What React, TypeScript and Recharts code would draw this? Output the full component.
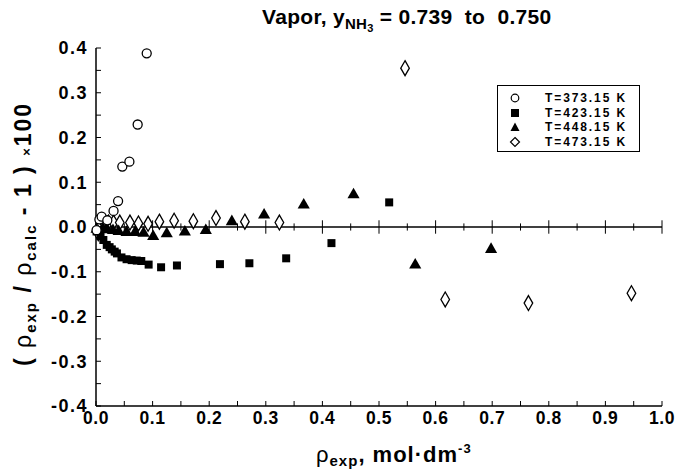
import { ScatterChart, Scatter, XAxis, YAxis, ZAxis, ReferenceLine, Customized } from "recharts"

// series values (x = rho_exp, y = deviation)
const circleX = [0.001, 0.006, 0.01, 0.02, 0.031, 0.039, 0.0465, 0.059, 0.0736, 0.0896]
const circleY = [-0.007, 0.017, 0.023, 0.015, 0.036, 0.058, 0.135, 0.146, 0.229, 0.388]

const squareX = [0.001, 0.008, 0.013, 0.019, 0.024, 0.028, 0.033, 0.037, 0.045, 0.054, 0.063, 0.072, 0.08, 0.093, 0.115, 0.143, 0.219, 0.271, 0.336, 0.416, 0.518]
const squareY = [-0.01, -0.02, -0.029, -0.04, -0.045, -0.05, -0.055, -0.059, -0.068, -0.072, -0.074, -0.075, -0.076, -0.084, -0.09, -0.086, -0.083, -0.081, -0.07, -0.036, 0.055]

const triangleX = [0.001, 0.012, 0.02, 0.03, 0.04, 0.054, 0.069, 0.084, 0.101, 0.125, 0.157, 0.194, 0.24, 0.297, 0.367, 0.455, 0.564, 0.698]
const triangleY = [-0.005, -0.004, -0.006, -0.008, -0.01, -0.012, -0.012, -0.014, -0.021, -0.015, -0.011, -0.008, 0.012, 0.027, 0.049, 0.072, -0.085, -0.05]

const diamondX = [0.004, 0.013, 0.022, 0.031, 0.042, 0.06, 0.075, 0.092, 0.112, 0.138, 0.172, 0.212, 0.263, 0.324, 0.546, 0.617, 0.764, 0.946]
const diamondY = [-0.014, 0.012, 0.01, 0.01, 0.01, 0.01, 0.008, 0.007, 0.012, 0.014, 0.013, 0.02, 0.012, 0.01, 0.355, -0.162, -0.17, -0.148]

const legendLabels = ["T=373.15 K", "T=423.15 K", "T=448.15 K", "T=473.15 K"]

const xTicks = [0, 0.05, 0.1, 0.15, 0.2, 0.25, 0.3, 0.35, 0.4, 0.45, 0.5, 0.55, 0.6, 0.65, 0.7, 0.75, 0.8, 0.85, 0.9, 0.95, 1]
const yTicks = [-0.4, -0.35, -0.3, -0.25, -0.2, -0.15, -0.1, -0.05, 0, 0.05, 0.1, 0.15, 0.2, 0.25, 0.3, 0.35, 0.4]

const FONT = "'Liberation Sans', Arial, sans-serif"

const toPoints = (xs: number[], ys: number[]) => xs.map((x, i) => ({ x, y: ys[i] }))

const isMajor = (v: number) => Math.round(v * 100) % 10 === 0

const fmtTick = (v: number) => {
  if (!isMajor(v)) return ""
  const s = v.toFixed(1)
  return s === "-0.0" ? "0.0" : s
}

function Symbol({ kind }: { kind: string }) {
  return (
    <svg width={12} height={12} style={{ display: "block" }}>
      {kind === "circle" && <circle cx={6} cy={6} r={3.8} fill="#fff" stroke="#000" strokeWidth={1.2} />}
      {kind === "square" && <rect x={2} y={2} width={8} height={8} fill="#000" />}
      {kind === "triangle" && <polygon points="6,1.5 10.5,10 1.5,10" fill="#000" />}
      {kind === "diamond" && <polygon points="6,1.5 10.5,6 6,10.5 1.5,6" fill="#fff" stroke="#000" strokeWidth={1.2} />}
    </svg>
  )
}

function LegendBox() {
  const kinds = ["circle", "square", "triangle", "diamond"]
  return (
    <div
      style={{
        position: "absolute",
        left: 497,
        top: 85,
        width: 143,
        height: 67,
        boxSizing: "border-box",
        border: "1px solid #000",
        padding: "5px 0 0 0",
        background: "#fff",
        fontFamily: FONT,
        fontSize: 12,
        fontWeight: "bold",
      }}
    >
      {kinds.map((k, i) => (
        <div key={k} style={{ display: "flex", alignItems: "center", height: 14.5 }}>
          <div style={{ width: 12, marginLeft: 11 }}>
            <Symbol kind={k} />
          </div>
          <span style={{ marginLeft: 24, letterSpacing: 1.9, whiteSpace: "nowrap" }}>{legendLabels[i]}</span>
        </div>
      ))}
    </div>
  )
}

function Titles() {
  return (
    <g fontFamily={FONT} fontWeight="bold" fill="#000">
      {/* title */}
      <text x={262} y={24} fontSize={21} letterSpacing={0.3} xmlSpace="preserve">
        <tspan>Vapor, y</tspan>
        <tspan fontSize={15} dy={5}>NH</tspan>
        <tspan fontSize={11} dy={3}>3</tspan>
        <tspan dy={-8}> = 0.739  to  0.750</tspan>
      </text>
      {/* x axis title */}
      <text x={316} y={462} fontSize={22} letterSpacing={1} xmlSpace="preserve">
        <tspan fontWeight="normal">ρ</tspan>
        <tspan fontSize={15} dy={4}>exp</tspan>
        <tspan dy={-4}>, mol·dm</tspan>
        <tspan fontSize={13} dy={-9}>-3</tspan>
      </text>
      {/* y axis title */}
      <text x={0} y={0} fontSize={23} letterSpacing={2} transform="translate(31,366) rotate(-90)" xmlSpace="preserve">
        <tspan>( </tspan>
        <tspan fontWeight="normal">ρ</tspan>
        <tspan fontSize={15} dy={5}>exp</tspan>
        <tspan dy={-5}> / </tspan>
        <tspan fontWeight="normal">ρ</tspan>
        <tspan fontSize={15} dy={5}>calc</tspan>
        <tspan dy={-5}> - 1 ) </tspan>
        <tspan fontSize={13}>×</tspan>
        <tspan>100</tspan>
      </text>
    </g>
  )
}

export default function App() {
  const yTickStyle = { fontFamily: FONT, fontSize: 18, fontWeight: "bold", fill: "#000", letterSpacing: 1.5 }
  const xTickStyle = { fontFamily: FONT, fontSize: 17.5, fontWeight: "bold", fill: "#000", letterSpacing: 0.6 }

  return (
    <div style={{ position: "absolute", left: 0, top: 0, width: 675, height: 472, background: "#fff" }}>
      <ScatterChart width={675} height={472} margin={{ top: 48, right: 13, bottom: 36, left: 38 }}>
        <XAxis
          type="number"
          dataKey="x"
          domain={[0, 1]}
          ticks={xTicks}
          tickFormatter={fmtTick}
          interval={0}
          height={30}
          tick={xTickStyle}
          tickSize={-5}
          tickMargin={11}
          axisLine={{ stroke: "#000", strokeWidth: 1.3 }}
          tickLine={{ stroke: "#000" }}
        />
        <YAxis
          type="number"
          dataKey="y"
          domain={[-0.4, 0.4]}
          ticks={yTicks}
          tickFormatter={fmtTick}
          interval={0}
          width={58}
          tick={yTickStyle}
          tickSize={-5}
          tickMargin={13}
          axisLine={{ stroke: "#000", strokeWidth: 1.5 }}
          tickLine={{ stroke: "#000" }}
        />
        <ZAxis range={[85, 85]} />
        <ReferenceLine y={0} stroke="#000" strokeWidth={1.5} />
        {xTicks.map((t) => (
          <ReferenceLine
            key={t}
            segment={[
              { x: t, y: isMajor(t) ? -0.015 : -0.008 },
              { x: t, y: isMajor(t) ? 0.015 : 0.008 },
            ]}
            stroke="#000"
            strokeWidth={1}
          />
        ))}
        <Scatter data={toPoints(diamondX, diamondY)} shape="diamond" fill="#fff" stroke="#000" strokeWidth={1.3} isAnimationActive={false} />
        <Scatter data={toPoints(triangleX, triangleY)} shape="triangle" fill="#000" isAnimationActive={false} />
        <Scatter data={toPoints(squareX, squareY)} shape="square" fill="#000" isAnimationActive={false} />
        <Scatter data={toPoints(circleX, circleY)} shape="circle" fill="#fff" stroke="#000" strokeWidth={1.3} isAnimationActive={false} />
        <Customized component={<Titles />} />
      </ScatterChart>
      <LegendBox />
    </div>
  )
}
